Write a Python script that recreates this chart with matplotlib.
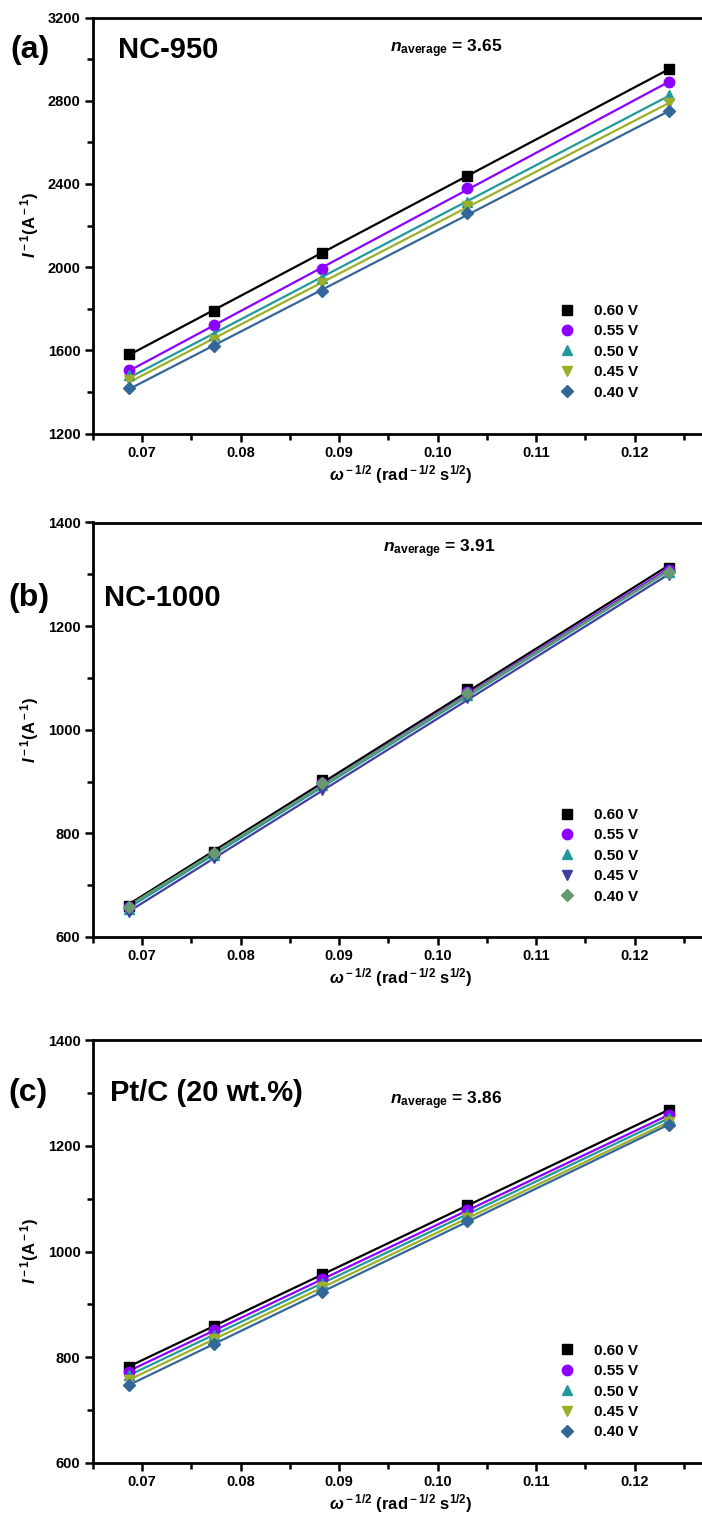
import numpy as np
import matplotlib
matplotlib.use("Agg")
import matplotlib.pyplot as plt
from matplotlib.ticker import MultipleLocator, FormatStrFormatter

plt.rcParams['font.family'] = ['Liberation Sans', 'DejaVu Sans']
plt.rcParams['font.weight'] = 'bold'
plt.rcParams['mathtext.fontset'] = 'custom'
plt.rcParams['mathtext.rm'] = 'Liberation Sans:bold'
plt.rcParams['mathtext.it'] = 'Liberation Sans:bold:italic'
plt.rcParams['mathtext.bf'] = 'Liberation Sans:bold'

# omega^-1/2 for the five rotation rates (rad^-1/2 s^1/2)
omega_inv_sqrt = [0.0687, 0.0773, 0.0883, 0.1030, 0.1235]

potentials = ['0.60 V', '0.55 V', '0.50 V', '0.45 V', '0.40 V']
markers = ['s', 'o', '^', 'v', 'D']

# I^-1 (A^-1) for each potential, per catalyst
nc950 = [
    [1584, 1788, 2070, 2439, 2953],
    [1504, 1721, 1992, 2379, 2890],
    [1480, 1675, 1947, 2315, 2829],
    [1456, 1648, 1923, 2294, 2789],
    [1420, 1619, 1886, 2259, 2749],
]
nc1000 = [
    [660, 765, 903, 1078, 1313],
    [657, 760, 897, 1072, 1308],
    [655, 758, 893, 1068, 1304],
    [648, 752, 884, 1061, 1298],
    [658, 762, 897, 1070, 1305],
]
ptc = [
    [782, 860, 957, 1087, 1268],
    [773, 852, 948, 1078, 1258],
    [766, 843, 940, 1071, 1252],
    [757, 835, 932, 1063, 1245],
    [748, 825, 924, 1057, 1240],
]

n_average = [3.65, 3.91, 3.86]
sample_names = ['NC-950', 'NC-1000', 'Pt/C (20 wt.%)']
panel_tags = ['(a)', '(b)', '(c)']

colors_a = ['#000000', '#8c00ff', '#21999a', '#9bb028', '#336699']
colors_b = ['#000000', '#8c00ff', '#21999a', '#3f3f9f', '#669a70']
colors_c = colors_a

W, H = 702, 1517
fig = plt.figure(figsize=(W / 100, H / 100), dpi=100)


def px_axes(left, top, right, bottom):
    return fig.add_axes([left / W, 1 - bottom / H, (right - left) / W, (bottom - top) / H])


panels = [
    dict(box=(93, 17.5, 708.6, 433.5), data=nc950, colors=colors_a,
         ylim=(1200, 3200), major=400, minor=200,
         tag_xy=(10, 50), name_xy=(118, 50), n_xy=(390, 52), leg=(0.745, 0.33)),
    dict(box=(93, 522.5, 708.6, 937), data=nc1000, colors=colors_b,
         ylim=(600, 1400), major=200, minor=100,
         tag_xy=(8, 598), name_xy=(104, 598), n_xy=(383, 552), leg=(0.745, 0.33)),
    dict(box=(93, 1040, 708.6, 1463), data=ptc, colors=colors_c,
         ylim=(600, 1400), major=200, minor=100,
         tag_xy=(8, 1093), name_xy=(110, 1093), n_xy=(390, 1104), leg=(0.745, 0.30)),
]

x = np.array(omega_inv_sqrt)
for i, p in enumerate(panels):
    ax = px_axes(*p['box'])
    for series, lab, mk, col in zip(p['data'], potentials, markers, p['colors']):
        y = np.array(series)
        k, b = np.polyfit(x, y, 1)
        xf = np.array([x.min(), x.max()])
        ax.plot(xf, k * xf + b, color=col, lw=1.6, zorder=2)
        ax.plot(x, y, linestyle='none', marker=mk, color=col, ms=7.5 if mk != 'D' else 6.5,
                label=lab, zorder=3)
    ax.set_xlim(0.065, 0.1275)
    ax.set_ylim(*p['ylim'])
    ax.xaxis.set_major_locator(MultipleLocator(0.01))
    ax.xaxis.set_minor_locator(MultipleLocator(0.005))
    ax.xaxis.set_major_formatter(FormatStrFormatter('%.2f'))
    ax.yaxis.set_major_locator(MultipleLocator(p['major']))
    ax.yaxis.set_minor_locator(MultipleLocator(p['minor']))
    for s in ax.spines.values():
        s.set_linewidth(2.0)
    ax.tick_params(which='major', direction='out', length=6, width=1.8, labelsize=10.5, pad=3)
    ax.tick_params(which='minor', direction='out', length=4, width=1.8)
    for t in ax.get_xticklabels() + ax.get_yticklabels():
        t.set_fontweight('bold')
    ax.set_xlabel(r'$\omega^{\rm -1/2}$ (rad$^{\rm -1/2}$ s$^{\rm 1/2}$)', fontsize=12,
                  fontweight='bold', labelpad=2)
    ax.set_ylabel(r'$I^{\rm -1}$(A$^{\rm -1}$)', fontsize=12, fontweight='bold', labelpad=5)

    ax.legend(loc='upper left', bbox_to_anchor=p['leg'], frameon=False,
              handlelength=1.0, handletextpad=1.3, labelspacing=0.42,
              borderpad=0, prop={'weight': 'bold', 'size': 11})

    tx, ty = p['tag_xy']
    fig.text(tx / W, 1 - ty / H, panel_tags[i], fontsize=23, fontweight='bold', va='center')
    nx, ny = p['name_xy']
    fig.text(nx / W, 1 - ny / H, sample_names[i], fontsize=21, fontweight='bold', va='center')
    ax_x, ay = p['n_xy']
    fig.text(ax_x / W, 1 - ay / H, r'$n_{\rm average}$ = %.2f' % n_average[i],
             fontsize=12.5, fontweight='bold', va='baseline')

fig.savefig('out.png', dpi=100)
